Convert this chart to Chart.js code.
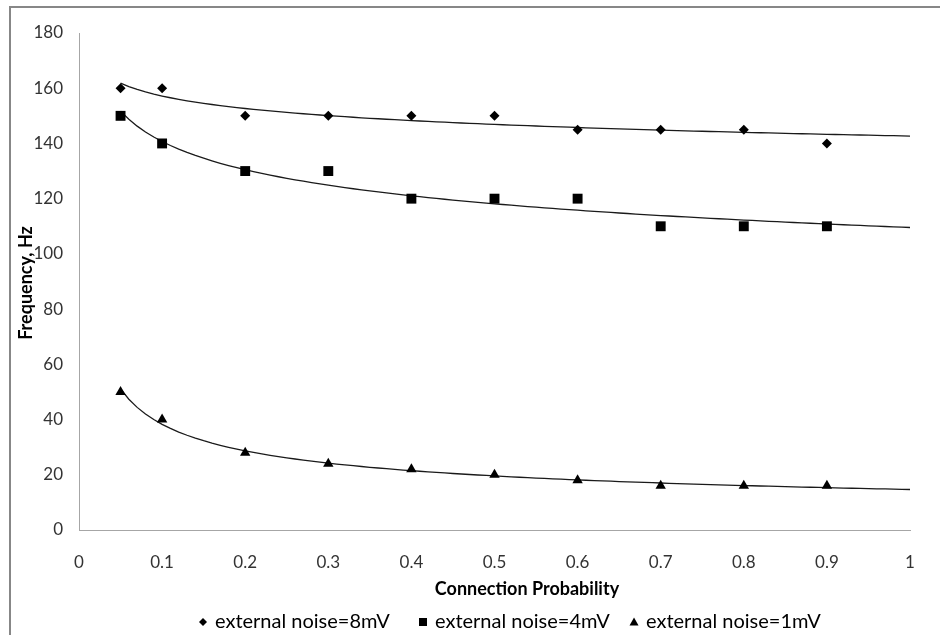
<!DOCTYPE html>
<html>
<head>
<meta charset="utf-8">
<script src="https://cdn.jsdelivr.net/npm/chart.js@4/dist/chart.umd.min.js"></script>
<style>
  html, body { margin: 0; padding: 0; background: #fff; }
  #wrap { position: relative; width: 940px; height: 635px; overflow: hidden; }
  #frame { position: absolute; left: 9px; top: 6px; width: 1000px; height: 700px;
           border-left: 2px solid #878787; border-top: 2px solid #878787; }
  canvas { position: absolute; left: 0; top: 0; }
</style>
</head>
<body>
<div id="wrap">
  <div id="frame"></div>
  <canvas id="chart" width="940" height="635"></canvas>
</div>
<script>
// Connection probability (x) and firing frequency in Hz for each noise level
const probability = [0.05, 0.1, 0.2, 0.3, 0.4, 0.5, 0.6, 0.7, 0.8, 0.9];
const noise8mV = [160, 160, 150, 150, 150, 150, 145, 145, 145, 140];
const noise4mV = [150, 140, 130, 130, 120, 120, 120, 110, 110, 110];
const noise1mV = [50, 40, 28, 24, 22, 20, 18, 16, 16, 16];

const seriesLabels = ['external noise=8mV', 'external noise=4mV', 'external noise=1mV'];
const xTicks = [0, 0.1, 0.2, 0.3, 0.4, 0.5, 0.6, 0.7, 0.8, 0.9, 1];
const yTicks = [0, 20, 40, 60, 80, 100, 120, 140, 160, 180];

const FONT = 'Lato';

// Least-squares power trendline y = a * x^b (fitted in log-log space), drawn from 0.05 to 1
function powerTrend(xs, ys) {
  const lx = xs.map(Math.log), ly = ys.map(Math.log);
  const n = xs.length;
  const mx = lx.reduce((s, v) => s + v, 0) / n;
  const my = ly.reduce((s, v) => s + v, 0) / n;
  let sxy = 0, sxx = 0;
  for (let i = 0; i < n; i++) { sxy += (lx[i] - mx) * (ly[i] - my); sxx += (lx[i] - mx) ** 2; }
  const b = sxy / sxx, a = Math.exp(my - b * mx);
  const pts = [];
  for (let i = 0; i <= 95; i++) {
    const x = 0.05 + i * 0.01;
    pts.push({ x, y: a * Math.pow(x, b) });
  }
  return pts;
}

const toPoints = ys => probability.map((x, i) => ({ x, y: ys[i] }));

function markerSet(label, ys, style, radius) {
  return {
    type: 'scatter', label, data: toPoints(ys), order: 0,
    pointStyle: style, pointRadius: radius, pointHoverRadius: radius,
    backgroundColor: '#000', borderColor: '#000', borderWidth: 0
  };
}
function trendSet(ys) {
  return {
    type: 'line', label: '', data: powerTrend(probability, ys), order: 1,
    borderColor: '#1a1a1a', borderWidth: 1.3, pointRadius: 0, fill: false, tension: 0
  };
}

// Small legend glyphs: diamond, square, triangle
function legendGlyph(ctx, style, cx, cy) {
  ctx.beginPath();
  if (style === 'rectRot') {
    ctx.moveTo(cx, cy - 4); ctx.lineTo(cx + 4, cy); ctx.lineTo(cx, cy + 4); ctx.lineTo(cx - 4, cy);
  } else if (style === 'rect') {
    ctx.rect(cx - 4, cy - 4, 8, 8);
  } else {
    ctx.moveTo(cx, cy - 4.5); ctx.lineTo(cx + 4.5, cy + 3.5); ctx.lineTo(cx - 4.5, cy + 3.5);
  }
  ctx.closePath();
  ctx.fill();
}

// Axis titles and the legend row under the plot
const annotationPlugin = {
  id: 'axisTitlesAndLegend',
  afterDraw(chart) {
    const ctx = chart.ctx;
    ctx.save();
    ctx.fillStyle = '#000';
    ctx.textAlign = 'center';
    ctx.textBaseline = 'middle';
    ctx.font = 'bold 18px ' + FONT;
    ctx.fillText('Connection Probability', 527, 589);
    ctx.save();
    ctx.translate(26, 283);
    ctx.rotate(-Math.PI / 2);
    ctx.fillText('Frequency, Hz', 0, 0);
    ctx.restore();

    const legendX = [203, 423, 634];
    ctx.font = '20px ' + FONT;
    ctx.textAlign = 'left';
    chart.data.datasets.filter(d => d.label).forEach((d, i) => {
      legendGlyph(ctx, d.pointStyle, legendX[i], 622);
      ctx.fillText(d.label, legendX[i] + 12, 622);
    });
    ctx.restore();
  }
};

new Chart(document.getElementById('chart'), {
  data: {
    datasets: [
      markerSet(seriesLabels[0], noise8mV, 'rectRot', 5),
      markerSet(seriesLabels[1], noise4mV, 'rect', 7),
      markerSet(seriesLabels[2], noise1mV, 'triangle', 6),
      trendSet(noise8mV),
      trendSet(noise4mV),
      trendSet(noise1mV)
    ]
  },
  options: {
    responsive: false,
    animation: false,
    events: [],
    layout: { padding: { left: 10, right: 30, top: 33, bottom: 0 } },
    plugins: {
      tooltip: { enabled: false },
      legend: { display: false }
    },
    scales: {
      x: {
        type: 'linear', min: 0, max: 1,
        afterBuildTicks: s => { s.ticks = xTicks.map(v => ({ value: v })); },
        afterFit: s => { s.height = 105; },
        grid: { display: false, drawTicks: false },
        border: { display: true, color: '#a6a6a6', width: 1 },
        ticks: { padding: 22, color: '#333', font: { family: FONT, size: 17 },
                 callback: v => String(v) }
      },
      y: {
        type: 'linear', min: 0, max: 180,
        afterBuildTicks: s => { s.ticks = yTicks.map(v => ({ value: v })); },
        afterFit: s => { s.width = 69; },
        grid: { display: false, drawTicks: false },
        border: { display: true, color: '#a6a6a6', width: 1 },
        ticks: { padding: 16, color: '#333', font: { family: FONT, size: 17 } }
      }
    }
  },
  plugins: [annotationPlugin]
});
</script>
</body>
</html>
